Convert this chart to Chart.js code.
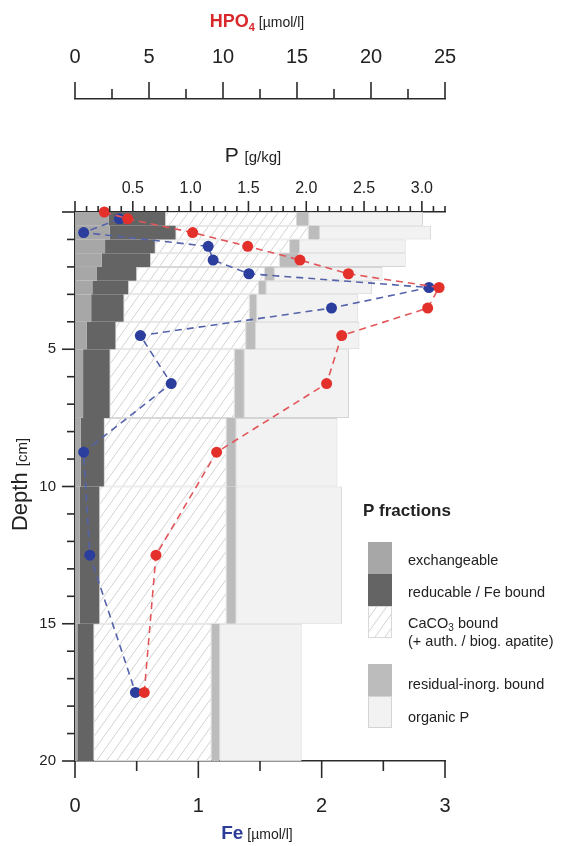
<!DOCTYPE html>
<html>
<head>
<meta charset="utf-8">
<script src="https://cdn.jsdelivr.net/npm/chart.js@4.4.1/dist/chart.umd.min.js"></script>
<style>
    html, body { margin: 0; padding: 0; background: #fff; }
    #wrap { width: 575px; height: 846px; }
</style>
</head>
<body>
<div id="wrap"><canvas id="profile" width="575" height="846"></canvas></div>
<script>
// sediment slices [cm]
var sliceTop    = [0, 0.5, 1, 1.5, 2, 2.5, 3, 4, 5, 7.5, 10, 15]
var sliceBottom = [0.5, 1, 1.5, 2, 2.5, 3, 4, 5, 7.5, 10, 15, 20]

// P fractions per slice [g/kg]
var pExchangeable = [0.29, 0.30, 0.26, 0.23, 0.19, 0.15, 0.14, 0.10, 0.07, 0.05, 0.04, 0.02]
var pReducable    = [0.49, 0.57, 0.43, 0.42, 0.34, 0.31, 0.28, 0.25, 0.23, 0.20, 0.17, 0.14]
var pCaCO3        = [1.14, 1.15, 1.17, 1.12, 1.11, 1.13, 1.09, 1.13, 1.08, 1.06, 1.10, 1.02]
var pResidual     = [0.10, 0.09, 0.08, 0.16, 0.08, 0.06, 0.06, 0.08, 0.08, 0.08, 0.08, 0.07]
var pOrganic      = [0.99, 0.97, 0.92, 0.93, 0.94, 0.92, 0.88, 0.90, 0.91, 0.88, 0.92, 0.71]

// pore water
var feDepth   = [0.25, 0.75, 1.25, 1.75, 2.25, 2.75, 3.5, 4.5, 6.25, 8.75, 12.5, 17.5]
var feValues  = [0.36, 0.07, 1.08, 1.12, 1.41, 2.87, 2.08, 0.53, 0.78, 0.07, 0.12, 0.49]
var hpoDepth  = [0, 0.25, 0.75, 1.25, 1.75, 2.25, 2.75, 3.5, 4.5, 6.25, 8.75, 12.5, 17.5]
var hpoValues = [1.98, 3.56, 7.95, 11.67, 15.2, 18.47, 24.6, 23.83, 18.02, 17.0, 9.57, 5.47, 4.68]

// axis ranges
var depthRange = [0, 20]
var pRange = [0, 3.2]
var hpoRange = [0, 25]
var feRange = [0, 3]

var FONT = "'Liberation Sans', Arial, sans-serif"
var RED = '#d9282c'
var BLUE = '#2c3c98'
var AXIS = '#2a2a2a'

var fractions = [pExchangeable, pReducable, pCaCO3, pResidual, pOrganic]

// bars with their own thickness taken from the slice limits
class DepthBarController extends Chart.BarController {
    _calculateBarIndexPixels(index, ruler) {
        var d = this.getDataset().data[index]
        var s = this._cachedMeta.iScale
        var a = s.getPixelForValue(d.top)
        var b = s.getPixelForValue(d.bottom)
        return { base: Math.min(a, b), head: Math.max(a, b), center: (a + b) / 2, size: Math.abs(b - a) }
    }
}
DepthBarController.id = 'depthBar'
DepthBarController.defaults = Chart.BarController.defaults
Chart.register(DepthBarController)

function fractionData(k) {
    return sliceTop.map(function (top, i) {
        var start = 0
        for (var j = 0; j < k; j++) start += fractions[j][i]
        return { x: [start, start + fractions[k][i]], y: (top + sliceBottom[i]) / 2, top: top, bottom: sliceBottom[i] }
    })
}

function points(depths, values) {
    return depths.map(function (d, i) { return { x: values[i], y: d } })
}

var canvas = document.getElementById('profile')
var ctx = canvas.getContext('2d')

function makeHatch() {
    var tile = document.createElement('canvas')
    tile.width = 10
    tile.height = 14
    var g = tile.getContext('2d')
    g.fillStyle = '#ffffff'
    g.fillRect(0, 0, 10, 14)
    g.strokeStyle = '#d2d2d2'
    g.lineWidth = 1
    ;[-10, 0, 10].forEach(function (o) {
        g.beginPath()
        g.moveTo(o, 14)
        g.lineTo(o + 10, 0)
        g.stroke()
    })
    return ctx.createPattern(tile, 'repeat')
}
var hatch = makeHatch()

var fractionStyle = [
    { label: 'exchangeable', bg: '#a7a7a7', border: 0, bc: '#a7a7a7' },
    { label: 'reducable / Fe bound', bg: '#646464', border: 0, bc: '#646464' },
    { label: 'CaCO3 bound', bg: hatch, border: 1, bc: '#d8d8d8' },
    { label: 'residual-inorg. bound', bg: '#bcbcbc', border: 0, bc: '#bcbcbc' },
    { label: 'organic P', bg: '#f2f2f2', border: 1, bc: '#d4d4d4' }
]

function isMultiple(v, step) {
    return Math.abs(v / step - Math.round(v / step)) < 1e-6
}

function drawTicks(c, scale, majorStep, majorLen, minorLen, side) {
    c.save()
    c.strokeStyle = AXIS
    c.lineWidth = 1.6
    scale.ticks.forEach(function (t) {
        var p = scale.getPixelForValue(t.value)
        var len = isMultiple(t.value, majorStep) ? majorLen : minorLen
        c.beginPath()
        if (side === 'up') { c.moveTo(p, scale.bottom); c.lineTo(p, scale.bottom - len) }
        else if (side === 'down') { c.moveTo(p, scale.top); c.lineTo(p, scale.top + len) }
        else { c.moveTo(scale.right, p); c.lineTo(scale.right - len, p) }
        c.stroke()
    })
    c.restore()
}

// text made of parts with different fonts, centred on cx
function drawRich(c, parts, cx, baseline) {
    var total = 0
    parts.forEach(function (p) { c.font = p.font; total += c.measureText(p.text).width })
    var x = cx - total / 2
    c.textBaseline = 'alphabetic'
    c.textAlign = 'left'
    parts.forEach(function (p) {
        c.font = p.font
        c.fillStyle = p.color
        c.fillText(p.text, x, baseline + (p.dy || 0))
        x += c.measureText(p.text).width
    })
}

var decor = {
    id: 'decor',
    afterDraw: function (chart) {
        var c = chart.ctx
        var s = chart.scales
        drawTicks(c, s.xH, 5, 17, 10, 'up')
        drawTicks(c, s.xP, 0.5, 11, 6, 'up')
        drawTicks(c, s.xFe, 1, 17, 10, 'down')
        drawTicks(c, s.y, 5, 13, 8, 'left')

        var cx = (chart.chartArea.left + chart.chartArea.right) / 2 - 3
        c.save()
        drawRich(c, [
            { text: 'HPO', font: 'bold 18px ' + FONT, color: RED },
            { text: '4', font: 'bold 11px ' + FONT, color: RED, dy: 4 },
            { text: ' [µmol/l]', font: '14px ' + FONT, color: '#222' }
        ], cx, 27)
        drawRich(c, [
            { text: 'P ', font: '21px ' + FONT, color: '#222' },
            { text: '[g/kg]', font: '15px ' + FONT, color: '#222' }
        ], cx - 4, 162)
        drawRich(c, [
            { text: 'Fe', font: 'bold 19px ' + FONT, color: BLUE },
            { text: ' [µmol/l]', font: '14px ' + FONT, color: '#222' }
        ], cx, 839)
        c.translate(27, (chart.chartArea.top + chart.chartArea.bottom) / 2 - 2)
        c.rotate(-Math.PI / 2)
        drawRich(c, [
            { text: 'Depth ', font: '22px ' + FONT, color: '#222' },
            { text: '[cm]', font: '15px ' + FONT, color: '#222' }
        ], 0, 0)
        c.restore()

        // legend
        c.save()
        c.fillStyle = '#222'
        c.font = 'bold 17px ' + FONT
        c.textBaseline = 'alphabetic'
        c.fillText('P fractions', 363, 516)
        var rows = [[542, 574], [574, 606], [606, 638], [664, 696], [696, 728]]
        rows.forEach(function (r, k) {
            var st = fractionStyle[k]
            c.fillStyle = st.bg
            c.fillRect(368, r[0], 24, r[1] - r[0])
            if (st.border) {
                c.strokeStyle = st.bc
                c.lineWidth = 1
                c.strokeRect(368.5, r[0] + 0.5, 23, r[1] - r[0] - 1)
            }
        })
        c.fillStyle = '#222'
        c.font = '14.5px ' + FONT
        c.textBaseline = 'middle'
        c.fillText('exchangeable', 408, 561)
        c.fillText('reducable / Fe bound', 408, 593)
        c.textBaseline = 'alphabetic'
        drawRichLeft(c, [
            { text: 'CaCO', font: '14.5px ' + FONT },
            { text: '3', font: '10px ' + FONT, dy: 3 },
            { text: ' bound', font: '14.5px ' + FONT }
        ], 408, 628)
        c.textBaseline = 'middle'
        c.font = '14.5px ' + FONT
        c.fillText('(+ auth. / biog. apatite)', 408, 642)
        c.fillText('residual-inorg. bound', 408, 685)
        c.fillText('organic P', 408, 718)
        c.restore()
    }
}

function drawRichLeft(c, parts, x, baseline) {
    parts.forEach(function (p) {
        c.font = p.font
        c.fillText(p.text, x, baseline + (p.dy || 0))
        x += c.measureText(p.text).width
    })
}

var datasets = [
    {
        type: 'line',
        label: 'HPO4',
        data: points(hpoDepth, hpoValues),
        xAxisID: 'xH',
        yAxisID: 'y',
        borderColor: '#e2565a',
        borderWidth: 1.6,
        borderDash: [7, 5],
        pointRadius: 5.5,
        pointBackgroundColor: '#e3302b',
        pointBorderColor: '#e3302b',
        pointBorderWidth: 0,
        clip: false,
        order: 0
    },
    {
        type: 'line',
        label: 'Fe',
        data: points(feDepth, feValues),
        xAxisID: 'xFe',
        yAxisID: 'y',
        borderColor: '#5563ab',
        borderWidth: 1.6,
        borderDash: [7, 5],
        pointRadius: 5.5,
        pointBackgroundColor: '#2b3d9d',
        pointBorderColor: '#2b3d9d',
        pointBorderWidth: 0,
        clip: false,
        order: 1
    }
]
fractionStyle.forEach(function (st, k) {
    datasets.push({
        type: 'depthBar',
        label: st.label,
        data: fractionData(k),
        xAxisID: 'xP',
        yAxisID: 'y',
        backgroundColor: st.bg,
        borderColor: st.bc,
        borderWidth: st.border,
        borderSkipped: false,
        order: 10 + k
    })
})

function tickFont(size) {
    return { family: FONT, size: size }
}

var profileChart = new Chart(canvas, {
    type: 'bar',
    data: { datasets: datasets },
    options: {
        indexAxis: 'y',
        responsive: false,
        devicePixelRatio: 1,
        animation: false,
        events: [],
        layout: { padding: { left: 0, right: 130, top: 0, bottom: 0 } },
        plugins: {
            legend: { display: false },
            tooltip: { enabled: false }
        },
        scales: {
            y: {
                axis: 'y',
                type: 'linear',
                position: 'left',
                reverse: true,
                min: depthRange[0],
                max: depthRange[1],
                offset: false,
                z: 1,
                grid: { display: false, drawTicks: true, tickLength: 13, offset: false },
                border: { display: true, color: AXIS, width: 1.6 },
                ticks: {
                    stepSize: 1,
                    autoSkip: false,
                    padding: 6,
                    color: '#222',
                    font: tickFont(15),
                    callback: function (v) { return (v > 0 && isMultiple(v, 5)) ? String(v) : '' }
                },
                afterFit: function (s) { s.width = 75 }
            },
            xP: {
                axis: 'x',
                type: 'linear',
                position: 'top',
                weight: 1,
                min: pRange[0],
                max: pRange[1],
                z: 1,
                grid: { display: false, drawTicks: true, tickLength: 11 },
                border: { display: true, color: AXIS, width: 1.6 },
                ticks: {
                    stepSize: 0.1,
                    autoSkip: false,
                    maxRotation: 0,
                    padding: 3,
                    color: '#222',
                    font: tickFont(16),
                    callback: function (v) { return (v > 0 && isMultiple(v, 0.5)) ? v.toFixed(1) : '' }
                },
                afterFit: function (s) { s.height = 113 }
            },
            xH: {
                axis: 'x',
                type: 'linear',
                position: 'top',
                weight: 2,
                min: hpoRange[0],
                max: hpoRange[1],
                z: 1,
                grid: { display: false, drawTicks: true, tickLength: 17 },
                border: { display: true, color: AXIS, width: 1.6 },
                ticks: {
                    stepSize: 2.5,
                    autoSkip: false,
                    maxRotation: 0,
                    padding: 13,
                    color: '#222',
                    font: tickFont(20),
                    callback: function (v) { return isMultiple(v, 5) ? String(v) : '' }
                },
                afterFit: function (s) { s.height = 99 }
            },
            xFe: {
                axis: 'x',
                type: 'linear',
                position: 'bottom',
                min: feRange[0],
                max: feRange[1],
                z: 1,
                grid: { display: false, drawTicks: true, tickLength: 17 },
                border: { display: true, color: AXIS, width: 1.6 },
                ticks: {
                    stepSize: 0.5,
                    autoSkip: false,
                    maxRotation: 0,
                    padding: 16,
                    color: '#222',
                    font: tickFont(20),
                    callback: function (v) { return isMultiple(v, 1) ? String(v) : '' }
                },
                afterFit: function (s) { s.height = 85 }
            }
        }
    },
    plugins: [decor]
})
</script>
</body>
</html>
